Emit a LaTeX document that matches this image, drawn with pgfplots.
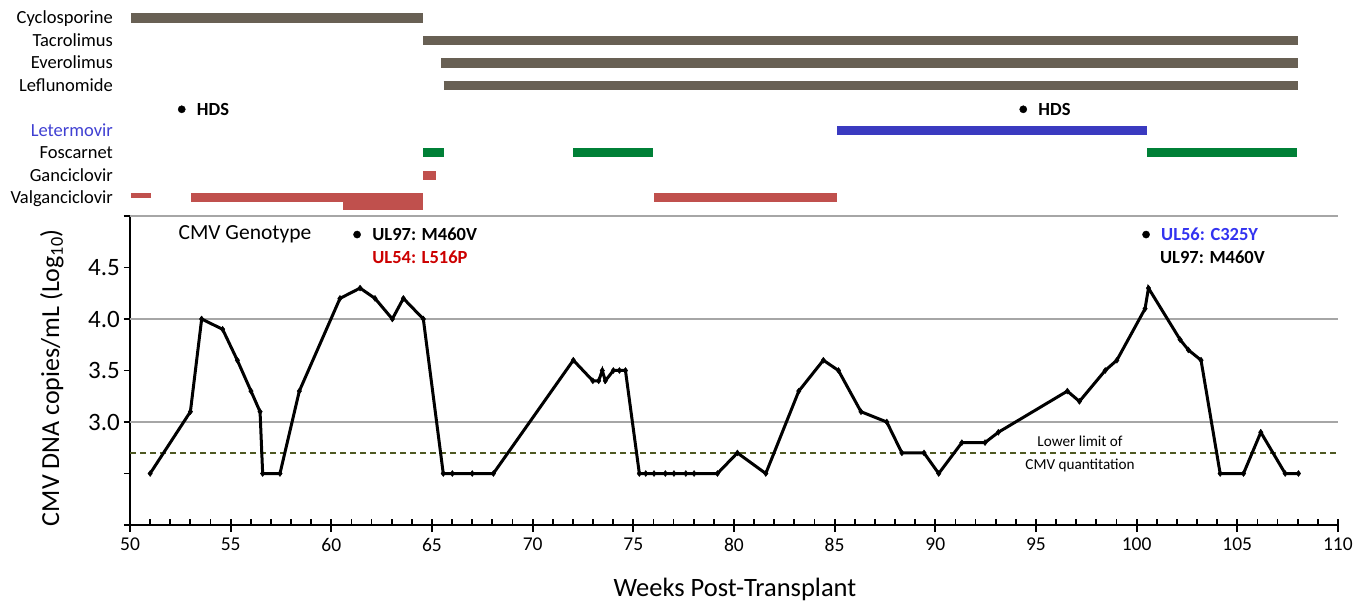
\documentclass[border=0pt]{standalone}
\usepackage{pgfplots}
\pgfplotsset{compat=1.18}
\usepackage{fontspec}
\setmainfont{Carlito}
\definecolor{drugbrown}{RGB}{104,96,84}
\definecolor{letblue}{RGB}{58,58,192}
\definecolor{fosgreen}{RGB}{0,128,55}
\definecolor{valred}{RGB}{192,80,77}
\definecolor{labblue}{RGB}{64,64,210}
\definecolor{ulred}{RGB}{204,0,0}
\definecolor{ulblue}{RGB}{51,51,240}
\definecolor{llq}{RGB}{79,89,35}
\begin{document}
\begin{tikzpicture}[x=1pt,y=1pt]
\useasboundingbox (0,0) rectangle (1366,603);
% ---------------- drug bars ----------------
\begin{axis}[at={(130pt,388pt)}, anchor=south west, scale only axis,
  width=1208pt, height=215pt, xmin=50, xmax=110, ymin=0, ymax=215,
  y dir=reverse, hide axis, clip=false]
\addplot[drugbrown, line width=9.3pt] coordinates {(50.05,18) (64.57,18)};
\addplot[drugbrown, line width=9.3pt] coordinates {(64.57,40.3) (108,40.3)};
\addplot[drugbrown, line width=9.3pt] coordinates {(65.45,63) (108,63)};
\addplot[drugbrown, line width=9.3pt] coordinates {(65.58,85.2) (108,85.2)};
\addplot[letblue, line width=9.3pt] coordinates {(85.14,130.5) (100.54,130.5)};
\addplot[fosgreen, line width=9.3pt] coordinates {(64.57,152.8) (65.58,152.8)};
\addplot[fosgreen, line width=9.3pt] coordinates {(72.02,152.8) (76.0,152.8)};
\addplot[fosgreen, line width=9.3pt] coordinates {(100.54,152.8) (107.97,152.8)};
\addplot[valred, line width=9.3pt] coordinates {(64.57,175.5) (65.18,175.5)};
\addplot[valred, line width=5pt] coordinates {(50.05,195.8) (51.04,195.8)};
\addplot[valred, line width=9.3pt] coordinates {(53.03,197.8) (64.57,197.8)};
\addplot[valred, line width=8.5pt] coordinates {(60.6,205.8) (64.57,205.8)};
\addplot[valred, line width=9.3pt] coordinates {(76.03,197.8) (85.14,197.8)};
\addplot[black, only marks, mark=*, mark size=3.6pt] coordinates {(52.57,109.3) (94.37,109.3)};
\begin{scope}[every node/.style={inner sep=0pt, font=\fontsize{18.5}{20}\selectfont, anchor=base east, yshift=-6pt}]
\node at (axis cs:49.16,18) {Cyclosporine};
\node at (axis cs:49.16,40.3) {Tacrolimus};
\node at (axis cs:49.16,63) {Everolimus};
\node at (axis cs:49.16,85.2) {Leflunomide};
\node[text=labblue] at (axis cs:49.16,130.5) {Letermovir};
\node at (axis cs:49.16,152.8) {Foscarnet};
\node at (axis cs:49.16,175.5) {Ganciclovir};
\node at (axis cs:49.16,197.8) {Valganciclovir};
\end{scope}
\begin{scope}[every node/.style={inner sep=0pt, font=\fontsize{18.5}{20}\selectfont\bfseries, anchor=base west, yshift=-6pt, xshift=15pt}]
\node at (axis cs:52.57,109.3) {HDS};
\node at (axis cs:94.37,109.3) {HDS};
\end{scope}
\end{axis}
% ---------------- viral load ----------------
\begin{axis}[at={(130pt,78pt)}, anchor=south west, scale only axis,
  width=1208pt, height=309pt, xmin=50, xmax=110, ymin=2, ymax=5,
  clip=false,
  axis lines=left, axis line style={-, line width=2pt, black},
  xtick={50,55,...,110}, minor x tick num=4,
  ytick={2,2.5,3,3.5,4,4.5,5}, yticklabels={,,3.0,3.5,4.0,4.5,},
  tick align=outside, major tick length=6pt,
  tick style={black, line width=1.8pt},
  major x tick style={/pgfplots/major tick length=13pt, yshift=6pt},
  minor x tick style={/pgfplots/minor tick length=6pt, yshift=6pt},
  /pgf/number format/assume math mode=true,
  xticklabel style={font=\fontsize{19.5}{21}\selectfont, inner sep=0pt, anchor=north, yshift=-7pt},
  yticklabel style={font=\fontsize{25}{27}\selectfont, inner sep=0pt, anchor=east, xshift=-4pt},
  extra y ticks={3,4,5}, extra y tick labels={},
  extra y tick style={grid=major},
  major grid style={draw=black!35, line width=1.1pt},
]
\addplot[llq, line width=2.6pt, dash pattern=on 6pt off 4pt] coordinates {(50,2.7) (110,2.7)};
\addplot[black, line width=3pt, mark=diamond*, mark size=3pt, mark options={solid, line width=0.4pt}] coordinates {
(51.0,2.5)(53.0,3.1)(53.56,4.0)(54.6,3.9)(55.33,3.6)(56.01,3.3)(56.46,3.1)(56.59,2.5)(57.45,2.5)(58.41,3.3)
(60.43,4.2)(61.43,4.3)(62.17,4.2)(63.03,4.0)(63.58,4.2)(64.57,4.0)(65.56,2.5)(66.01,2.5)(67.0,2.5)(68.05,2.5)
(72.02,3.6)(72.99,3.4)(73.28,3.4)(73.46,3.5)(73.61,3.4)(74.01,3.5)(74.31,3.5)(74.61,3.5)(75.3,2.5)(75.62,2.5)
(76.03,2.5)(76.59,2.5)(77.02,2.5)(77.61,2.5)(78.02,2.5)(79.18,2.5)(80.17,2.7)(81.58,2.5)(83.22,3.3)(84.44,3.6)
(85.19,3.5)(86.31,3.1)(87.59,3.0)(88.34,2.7)(89.44,2.7)(90.17,2.5)(91.32,2.8)(92.47,2.8)(93.13,2.9)(96.56,3.3)
(97.16,3.2)(98.44,3.5)(99.02,3.6)(100.42,4.1)(100.59,4.3)(102.16,3.8)(102.57,3.7)(103.2,3.6)(104.15,2.5)(105.31,2.5)
(106.17,2.9)(107.38,2.5)(108.04,2.5)};
\addplot[black, only marks, mark=*, mark size=3.6pt] coordinates {(61.28,4.82) (100.47,4.82)};
\node[inner sep=0pt, font=\fontsize{21.5}{23}\selectfont] at (axis cs:55.71,4.82) {CMV Genotype};
\begin{scope}[every node/.style={inner sep=0pt, font=\fontsize{18.5}{20}\selectfont\bfseries, anchor=base west, yshift=-6pt}]
\node at (axis cs:62.03,4.82) {UL97: M460V};
\node[text=ulred] at (axis cs:62.03,4.60) {UL54: L516P};
\node[text=ulblue] at (axis cs:101.21,4.82) {UL56: C325Y};
\node at (axis cs:101.16,4.60) {UL97: M460V};
\end{scope}
\node[inner sep=0pt, font=\fontsize{15.2}{17}\selectfont, anchor=base, yshift=-5pt] at (axis cs:97.19,2.806) {Lower limit of};
\node[inner sep=0pt, font=\fontsize{15.2}{17}\selectfont, anchor=base, yshift=-5pt] at (axis cs:97.19,2.583) {CMV quantitation};
\node[inner sep=0pt, font=\fontsize{26.5}{28}\selectfont, anchor=center] at (axis description cs:0.5008,-0.207) {Weeks Post-Transplant};
\node[inner sep=0pt, font=\fontsize{26}{28}\selectfont, anchor=center, rotate=90] at (axis description cs:-0.0646,0.477) {CMV DNA copies/mL (Log\textsubscript{10})};
\end{axis}
\end{tikzpicture}
\end{document}
